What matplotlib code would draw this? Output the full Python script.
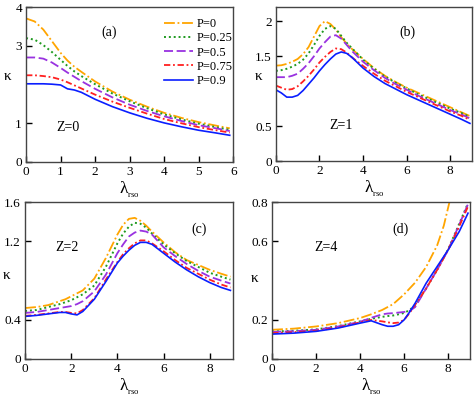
import matplotlib
matplotlib.use('Agg')
import matplotlib.pyplot as plt

plt.rcParams['font.family'] = ['Liberation Serif', 'DejaVu Serif']
plt.rcParams['mathtext.fontset'] = 'custom'
plt.rcParams['mathtext.rm'] = 'Liberation Serif'
plt.rcParams['mathtext.it'] = 'Liberation Serif:italic'

p_labels = ['P=0', 'P=0.25', 'P=0.5', 'P=0.75', 'P=0.9']

# panel (a), Z=0
a_x = [0, 0.25, 0.5, 0.75, 1.0, 1.2, 1.4, 1.6, 2.0, 2.5, 3.0, 3.5, 4.0, 4.5, 5.0, 5.5, 5.9]
a_p0 = [3.71, 3.63, 3.42, 3.12, 2.82, 2.62, 2.46, 2.33, 2.08, 1.82, 1.61, 1.43, 1.27, 1.14, 1.03, 0.94, 0.87]
a_p25 = [3.2, 3.16, 3.02, 2.84, 2.64, 2.48, 2.34, 2.22, 2.01, 1.77, 1.57, 1.39, 1.23, 1.10, 0.99, 0.90, 0.83]
a_p50 = [2.7, 2.7, 2.67, 2.57, 2.43, 2.31, 2.2, 2.09, 1.89, 1.67, 1.48, 1.32, 1.18, 1.06, 0.95, 0.87, 0.80]
a_p75 = [2.24, 2.24, 2.22, 2.19, 2.13, 2.06, 1.98, 1.9, 1.74, 1.56, 1.4, 1.25, 1.11, 1.0, 0.9, 0.82, 0.76]
a_p90 = [2.02, 2.02, 2.02, 2.01, 1.99, 1.89, 1.86, 1.80, 1.62, 1.43, 1.27, 1.13, 1.01, 0.91, 0.82, 0.75, 0.69]

# panel (b), Z=1
b_x = [0, 0.25, 0.5, 0.75, 1, 1.25, 1.5, 1.75, 2, 2.25, 2.5, 2.75, 3, 3.25, 3.5,
       4, 4.5, 5, 5.5, 6, 6.5, 7, 7.5, 8, 8.5, 8.9]
b_p0 = [1.365, 1.37, 1.39, 1.42, 1.46, 1.53, 1.63, 1.78, 1.93, 2.0, 1.96, 1.88, 1.77, 1.68, 1.6,
        1.46, 1.33, 1.22, 1.13, 1.05, 0.98, 0.91, 0.84, 0.77, 0.70, 0.645]
b_p25 = [1.29, 1.30, 1.32, 1.35, 1.39, 1.45, 1.54, 1.66, 1.79, 1.89, 1.93, 1.89, 1.79, 1.69, 1.61,
         1.45, 1.32, 1.21, 1.12, 1.04, 0.96, 0.89, 0.82, 0.75, 0.69, 0.63]
b_p50 = [1.2, 1.2, 1.2, 1.22, 1.25, 1.32, 1.4, 1.5, 1.61, 1.7, 1.78, 1.80, 1.75, 1.66, 1.57,
         1.42, 1.30, 1.19, 1.10, 1.02, 0.94, 0.87, 0.80, 0.73, 0.67, 0.61]
b_p75 = [1.08, 1.05, 1.02, 1.03, 1.07, 1.14, 1.22, 1.31, 1.41, 1.49, 1.56, 1.61, 1.60, 1.55, 1.48,
         1.36, 1.25, 1.15, 1.07, 0.99, 0.92, 0.85, 0.78, 0.71, 0.65, 0.59]
b_p90 = [1.02, 0.975, 0.915, 0.915, 0.94, 1.01, 1.1, 1.19, 1.29, 1.38, 1.46, 1.53, 1.56, 1.54, 1.48,
         1.33, 1.21, 1.11, 1.03, 0.95, 0.88, 0.81, 0.74, 0.67, 0.60, 0.54]

# panel (c), Z=2
c_x = [0, 0.5, 1, 1.5, 1.75, 2, 2.25, 2.5, 3, 3.5, 4, 4.25, 4.5, 4.75, 5, 5.25, 5.5,
       6, 6.5, 7, 7.5, 8, 8.5, 8.9]
c_p0 = [0.52, 0.53, 0.55, 0.59, 0.61, 0.64, 0.67, 0.70, 0.82, 1.03, 1.27, 1.37, 1.43, 1.44, 1.41, 1.36, 1.30,
        1.19, 1.09, 1.01, 0.96, 0.91, 0.87, 0.84]
c_p25 = [0.49, 0.50, 0.53, 0.56, 0.58, 0.60, 0.63, 0.66, 0.75, 0.94, 1.18, 1.28, 1.35, 1.39, 1.38, 1.34, 1.28,
         1.17, 1.08, 1.00, 0.94, 0.88, 0.84, 0.81]
c_p50 = [0.47, 0.48, 0.50, 0.52, 0.53, 0.54, 0.56, 0.59, 0.69, 0.86, 1.08, 1.17, 1.25, 1.29, 1.31, 1.30, 1.27,
         1.14, 1.05, 0.97, 0.90, 0.84, 0.80, 0.77]
c_p75 = [0.44, 0.45, 0.465, 0.48, 0.48, 0.47, 0.465, 0.50, 0.62, 0.81, 0.99, 1.07, 1.13, 1.18, 1.21, 1.21, 1.18,
         1.10, 1.01, 0.93, 0.87, 0.81, 0.76, 0.73]
c_p90 = [0.435, 0.445, 0.46, 0.475, 0.475, 0.46, 0.45, 0.485, 0.61, 0.79, 0.98, 1.05, 1.11, 1.16, 1.19, 1.19, 1.17,
         1.08, 0.99, 0.91, 0.84, 0.78, 0.73, 0.70]

# panel (d), Z=4
d_x0 = [0, 1, 2, 3, 4, 4.5, 5, 5.5, 6, 6.5, 7, 7.5, 7.8, 8.1]
d_p0 = [0.149, 0.155, 0.166, 0.183, 0.209, 0.228, 0.25, 0.28, 0.33, 0.39, 0.47, 0.58, 0.68, 0.82]
d_x = [0, 1, 2, 3, 4, 4.5, 5, 5.25, 5.5, 5.75, 6, 6.25, 6.5, 7, 7.5, 8, 8.5, 8.9]
d_p25 = [0.14, 0.144, 0.151, 0.168, 0.192, 0.205, 0.215, 0.219, 0.222, 0.228, 0.235, 0.25, 0.275,
         0.36, 0.455, 0.56, 0.69, 0.795]
d_p50 = [0.138, 0.142, 0.149, 0.166, 0.19, 0.21, 0.228, 0.232, 0.234, 0.237, 0.24, 0.245, 0.265,
         0.36, 0.455, 0.557, 0.685, 0.79]
d_p75 = [0.132, 0.137, 0.144, 0.161, 0.187, 0.199, 0.192, 0.187, 0.183, 0.186, 0.2, 0.235, 0.277,
         0.36, 0.455, 0.557, 0.676, 0.778]
d_p90 = [0.127, 0.132, 0.141, 0.158, 0.183, 0.195, 0.175, 0.167, 0.167, 0.175, 0.2, 0.24, 0.285,
         0.387, 0.472, 0.557, 0.65, 0.744]

colors = ['#ffa500', '#1f9a1f', '#9932e0', '#ff2020', '#0a1eff']
styles = [(0, (6, 1.5, 1, 1.5)), (0, (1, 1.5)), (0, (5, 2)), (0, (3.5, 1.5, 1, 1.5)), '-']
widths = [1.3, 1.4, 1.3, 1.3, 1.2]


def setup_axes(ax, xlim, ylim, xticks, yticks, yticklabels, tag, tag_pos, ztext, z_pos):
    ax.set_xlim(*xlim)
    ax.set_ylim(*ylim)
    ax.set_xticks(xticks)
    ax.set_yticks(yticks)
    ax.set_yticklabels(yticklabels)
    ax.tick_params(direction='in', length=4, width=1, labelsize=9.5, pad=3,
                   top=False, right=False)
    for s in ax.spines.values():
        s.set_linewidth(1.0)
        s.set_color('#444444')
    ax.set_ylabel('κ', rotation=0, fontsize=11)
    ax.set_xlabel(r'$\mathrm{\lambda_{_{rso}}}$', fontsize=12.5, labelpad=1)
    ax.text(tag_pos[0], tag_pos[1], tag, transform=ax.transAxes, fontsize=10,
            ha='center', va='center')
    ax.text(z_pos[0], z_pos[1], ztext, transform=ax.transAxes, fontsize=10,
            ha='center', va='center')


def draw_curves(ax, xs, ys):
    for i in range(5):
        ax.plot(xs[i], ys[i], color=colors[i], linestyle=styles[i], linewidth=widths[i],
                label=p_labels[i])


fig = plt.figure(figsize=(4.74, 3.98), dpi=100)
ax_a = fig.add_axes([0.055, 0.593, 0.437, 0.389])
ax_b = fig.add_axes([0.582, 0.595, 0.414, 0.387])
ax_c = fig.add_axes([0.053, 0.098, 0.438, 0.394])
ax_d = fig.add_axes([0.574, 0.098, 0.418, 0.394])

draw_curves(ax_a, [a_x] * 5, [a_p0, a_p25, a_p50, a_p75, a_p90])
setup_axes(ax_a, (0, 6), (0, 4), [0, 1, 2, 3, 4, 5, 6], [0, 1, 3, 4], ['0', '1', '3', '4'],
           '(a)', (0.40, 0.84), 'Z=0', (0.20, 0.22))
ax_a.yaxis.set_label_coords(-0.09, 0.51)
ax_a.legend(loc='upper left', bbox_to_anchor=(0.665, 0.93), frameon=False, fontsize=9,
            handlelength=2.3, handletextpad=0.35, labelspacing=0.18, borderpad=0,
            borderaxespad=0)

draw_curves(ax_b, [b_x] * 5, [b_p0, b_p25, b_p50, b_p75, b_p90])
setup_axes(ax_b, (0, 9), (0, 2.2), [0, 2, 4, 6, 8], [0, 0.5, 1.5, 2], ['0', '0.5', '1.5', '2'],
           '(b)', (0.67, 0.84), 'Z=1', (0.33, 0.23))
ax_b.yaxis.set_label_coords(-0.09, 0.506)

draw_curves(ax_c, [c_x] * 5, [c_p0, c_p25, c_p50, c_p75, c_p90])
setup_axes(ax_c, (0, 9), (0, 1.6), [0, 2, 4, 6, 8], [0, 0.4, 1.2, 1.6], ['0', '0.4', '1.2', '1.6'],
           '(c)', (0.84, 0.83), 'Z=2', (0.20, 0.71))
ax_c.yaxis.set_label_coords(-0.087, 0.49)

draw_curves(ax_d, [d_x0, d_x, d_x, d_x, d_x], [d_p0, d_p25, d_p50, d_p75, d_p90])
setup_axes(ax_d, (0, 9), (0, 0.8), [0, 2, 4, 6, 8], [0, 0.2, 0.6, 0.8], ['0', '0.2', '0.6', '0.8'],
           '(d)', (0.65, 0.83), 'Z=4', (0.27, 0.71))
ax_d.yaxis.set_label_coords(-0.086, 0.47)

fig.savefig('out.png', dpi=100)
